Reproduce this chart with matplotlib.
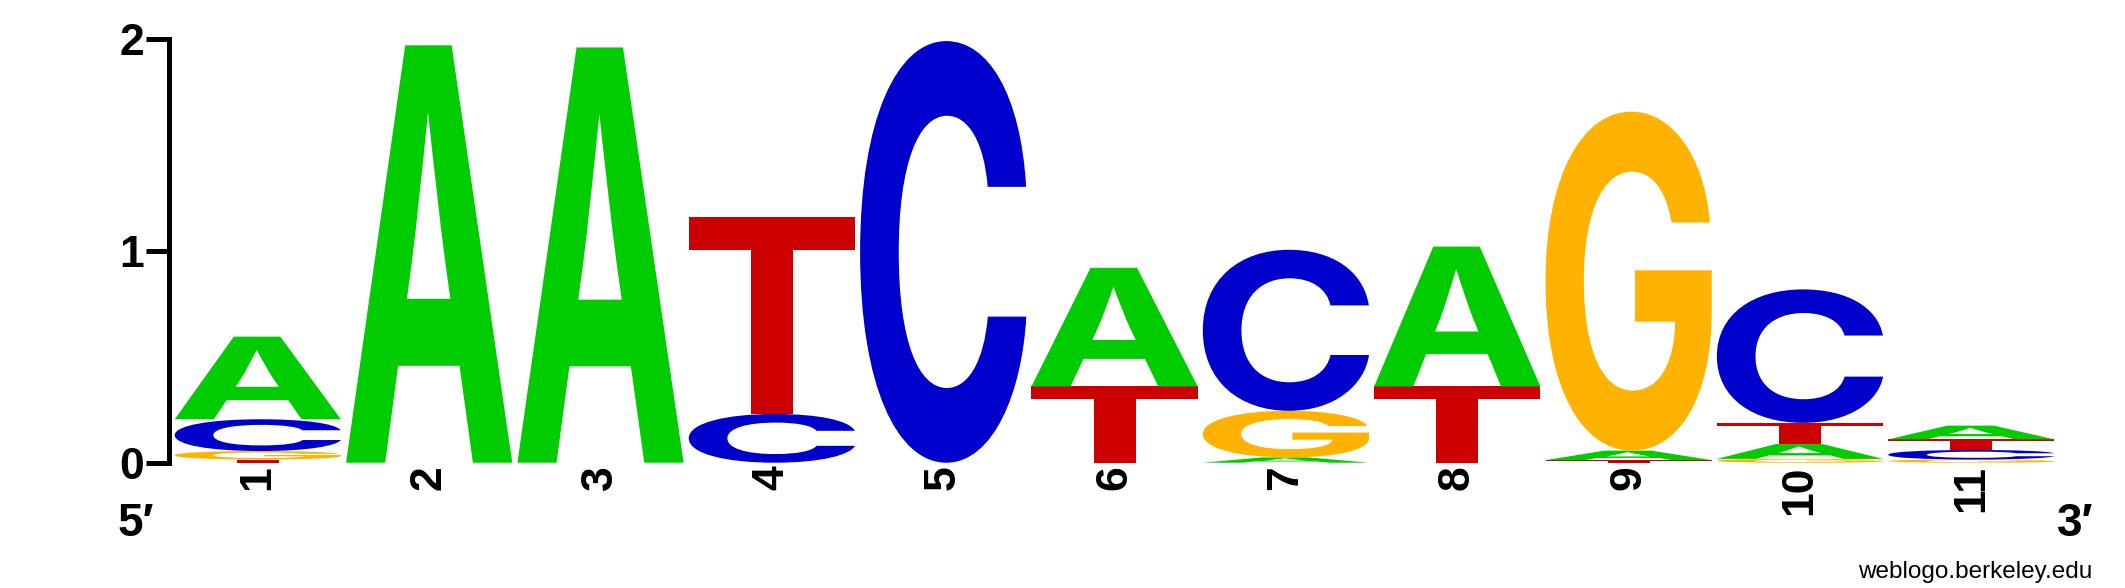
import matplotlib
matplotlib.use('Agg')
import matplotlib.pyplot as plt
from matplotlib.textpath import TextPath
from matplotlib.font_manager import FontProperties
from matplotlib.patches import PathPatch
from matplotlib.transforms import Affine2D

positions = list(range(1, 12))
# information content (bits) of each base at each position
bits_A = [0.39, 1.97, 1.96, 0.0, 0.0, 0.56, 0.025, 0.66, 0.045, 0.07, 0.065]
bits_C = [0.15, 0.0, 0.0, 0.23, 1.99, 0.0, 0.76, 0.0, 0.0, 0.63, 0.045]
bits_G = [0.04, 0.0, 0.0, 0.0, 0.0, 0.0, 0.22, 0.0, 1.60, 0.018, 0.015]
bits_T = [0.015, 0.0, 0.0, 0.93, 0.0, 0.36, 0.0, 0.36, 0.012, 0.10, 0.05]
yticks = [0, 1, 2]

colors = {'A': '#00cc00', 'C': '#0000cc', 'G': '#ffb300', 'T': '#cc0000'}
font = FontProperties(family='Inter', weight='bold')
glyphs = {b: TextPath((0, 0), b, size=1, prop=font) for b in 'ACGT'}


def draw_letter(ax, base, xc, y0, h, w=0.97):
    path = glyphs[base]
    ext = path.get_extents()
    tr = (Affine2D().translate(-ext.x0, -ext.y0)
          .scale(w / ext.width, h / ext.height)
          .translate(xc - w / 2, y0))
    ax.add_patch(PathPatch(tr.transform_path(path), facecolor=colors[base],
                           edgecolor='none', transform=ax.transData))


fig = plt.figure(figsize=(21.25, 5.88), dpi=100)
ax = fig.add_axes([0.081, 0.2131, 0.887, 0.7206])

for i, pos in enumerate(positions):
    col = [('A', bits_A[i]), ('C', bits_C[i]), ('G', bits_G[i]), ('T', bits_T[i])]
    col = sorted([c for c in col if c[1] > 0], key=lambda c: c[1])
    y = 0.0
    for base, h in col:
        draw_letter(ax, base, pos, y, h)
        y += h

ax.set_xlim(0.5, 11.5)
ax.set_ylim(0, 2)
for s in ['top', 'right', 'bottom']:
    ax.spines[s].set_visible(False)
ax.spines['left'].set_linewidth(3.6)
ax.spines['left'].set_position(('outward', 2))
ax.set_yticks(yticks)
ax.set_yticklabels([str(t) for t in yticks], fontsize=32, fontweight='bold',
                   family='Liberation Sans')
ax.tick_params(axis='y', length=16.5, width=3.6, pad=1.5)
ax.set_xticks(positions)
ax.set_xticklabels([str(p) for p in positions], rotation=90, fontsize=32,
                   fontweight='bold', family='Liberation Sans')
ax.tick_params(axis='x', length=0, pad=2)

fig.text(136 / 2125, 1 - 524 / 588, '5\u2032', fontsize=33, fontweight='bold',
         family=['Liberation Sans', 'DejaVu Sans'], ha='center', va='center')
fig.text(2075 / 2125, 1 - 524 / 588, '3\u2032', fontsize=33, fontweight='bold',
         family=['Liberation Sans', 'DejaVu Sans'], ha='center', va='center')
fig.text(2092 / 2125, 1 - 572 / 588, 'weblogo.berkeley.edu', fontsize=17.5,
         family='Liberation Sans', ha='right', va='center')

fig.savefig('out.png', dpi=100)
